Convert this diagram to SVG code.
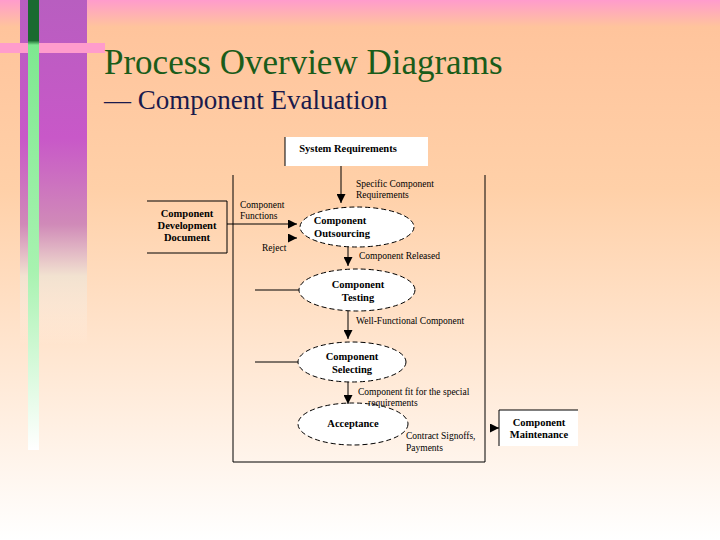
<svg xmlns="http://www.w3.org/2000/svg" width="720" height="540" viewBox="0 0 720 540">
<defs>
<linearGradient id="bg" x1="0" y1="0" x2="0" y2="1">
<stop offset="0" stop-color="#ff9ccc"/><stop offset="0.05" stop-color="#ffc49c"/><stop offset="0.35" stop-color="#ffd0a8"/><stop offset="1" stop-color="#ffffff"/>
</linearGradient>
<linearGradient id="strip" x1="0" y1="0" x2="0" y2="1">
<stop offset="0" stop-color="#b85ec0"/><stop offset="0.4" stop-color="#c858c8"/><stop offset="0.65" stop-color="#d08ab8"/><stop offset="0.8" stop-color="#f2e2d0"/><stop offset="1" stop-color="#fff4ec" stop-opacity="0"/>
</linearGradient>
<linearGradient id="green" x1="0" y1="0" x2="0" y2="1">
<stop offset="0" stop-color="#1a6a30"/><stop offset="0.09" stop-color="#1a6a30"/><stop offset="0.1" stop-color="#7ee890"/><stop offset="0.6" stop-color="#a8f2b0"/><stop offset="1" stop-color="#ffffff"/>
</linearGradient>
<marker id="ah" viewBox="0 0 10 10" refX="10" refY="5" markerWidth="9" markerHeight="9" markerUnits="userSpaceOnUse" orient="auto"><path d="M0,0L10,5L0,10z" fill="#000"/></marker>
<style>
.ln{stroke:#000;stroke-width:1;fill:none}
.el{fill:#fff;stroke:#000;stroke-width:1;stroke-dasharray:5,3}
.bt{font-family:"Liberation Serif",serif;font-size:10.5px;font-weight:bold;text-anchor:middle}
.lb{font-family:"Liberation Serif",serif;font-size:9.5px}
</style>
</defs>
<rect width="720" height="540" fill="url(#bg)"/>
<rect x="20" y="0" width="67" height="345" fill="url(#strip)"/>
<rect x="0" y="43" width="105" height="10" fill="#ff9ccc"/>
<rect x="28" y="0" width="11" height="450" fill="url(#green)"/>
<text x="104" y="74" font-family="Liberation Serif,serif" font-size="35" fill="#1a5c1a">Process Overview Diagrams</text>
<text x="104" y="109" font-family="Liberation Serif,serif" font-size="27" fill="#1a1a4c">— Component Evaluation</text>
<g id="frame"><path class="ln" d="M233,175V462H485V175"/></g>
<g id="sysreq"><rect x="285" y="137" width="143" height="29" fill="#fff"/><path class="ln" d="M285,137V166"/><text class="bt" x="348" y="152">System Requirements</text></g>
<g id="cdd"><path class="ln" d="M147,201H227V253H147"/><text class="bt" x="187" y="217">Component</text><text class="bt" x="187" y="229">Development</text><text class="bt" x="187" y="241">Document</text></g>
<g id="outsourcing"><ellipse class="el" cx="357" cy="227" rx="57" ry="20"/><text class="bt" x="340" y="224">Component</text><text class="bt" x="342" y="237">Outsourcing</text></g>
<g id="testing"><ellipse class="el" cx="357" cy="290" rx="58" ry="21"/><text class="bt" x="358" y="288">Component</text><text class="bt" x="358" y="301">Testing</text></g>
<g id="selecting"><ellipse class="el" cx="352" cy="362" rx="54" ry="20"/><text class="bt" x="352" y="360">Component</text><text class="bt" x="352" y="373">Selecting</text></g>
<g id="acceptance"><ellipse class="el" cx="353" cy="424" rx="55" ry="21"/><text class="bt" x="353" y="427">Acceptance</text></g>
<g id="maint"><rect x="499" y="410" width="79" height="36" fill="#fff"/><path class="ln" d="M499,446V410H578"/><text class="bt" x="539" y="426">Component</text><text class="bt" x="539" y="438">Maintenance</text></g>
<g id="connectors">
<path class="ln" d="M341,166V203" marker-end="url(#ah)"/>
<path class="ln" d="M227,224H297" marker-end="url(#ah)"/>
<path class="ln" d="M288,238H297" marker-end="url(#ah)"/>
<path class="ln" d="M348,247V266" marker-end="url(#ah)"/>
<path class="ln" d="M255,290H299"/>
<path class="ln" d="M348,311V339" marker-end="url(#ah)"/>
<path class="ln" d="M255,362H298"/>
<path class="ln" d="M348,382V404" marker-end="url(#ah)"/>
<path class="ln" d="M490,428H499" marker-end="url(#ah)"/>
</g>
<g id="labels">
<text class="lb" x="356" y="187">Specific Component</text><text class="lb" x="356" y="198">Requirements</text>
<text class="lb" x="240" y="208">Component</text><text class="lb" x="240" y="219">Functions</text>
<text class="lb" x="262" y="251">Reject</text>
<text class="lb" x="359" y="259">Component Released</text>
<text class="lb" x="356" y="324">Well-Functional Component</text>
<text class="lb" x="358" y="395">Component fit for the special</text><text class="lb" x="368" y="406">requirements</text>
<text class="lb" x="406" y="439">Contract Signoffs,</text><text class="lb" x="406" y="451">Payments</text>
</g>
</svg>
